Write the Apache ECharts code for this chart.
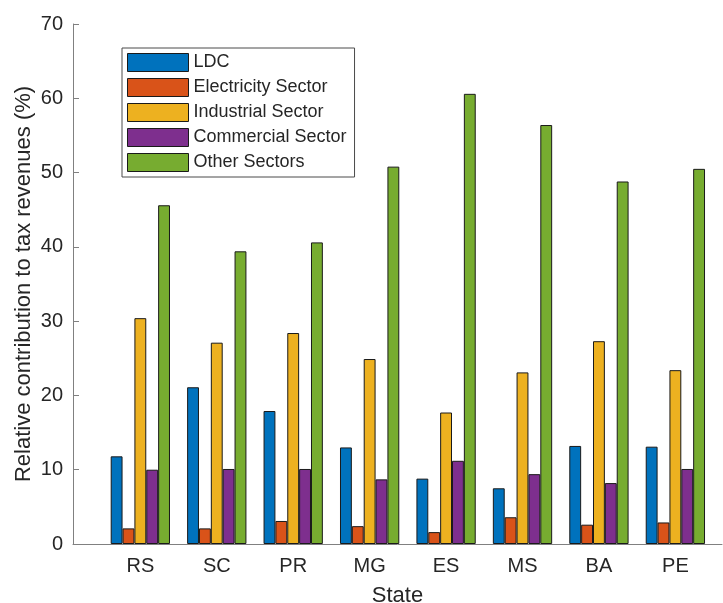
<!DOCTYPE html>
<html>
<head>
<meta charset="utf-8">
<script src="https://cdn.jsdelivr.net/npm/echarts@6/dist/echarts.min.js"></script>
<style>
  html, body { margin: 0; padding: 0; background: #fff; }
  #chart { width: 723px; height: 603px; }
</style>
</head>
<body>
<div id="chart"></div>
<script>
// Relative contribution of each sector to tax revenues, by state (%)
const states = ['RS', 'SC', 'PR', 'MG', 'ES', 'MS', 'BA', 'PE'];
const sectorNames = ['LDC', 'Electricity Sector', 'Industrial Sector', 'Commercial Sector', 'Other Sectors'];
const ldc         = [11.8, 21.1, 17.9, 13.0, 8.8, 7.5, 13.2, 13.1];
const electricity = [2.1, 2.1, 3.1, 2.4, 1.6, 3.6, 2.6, 2.9];
const industrial  = [30.4, 27.1, 28.4, 24.9, 17.7, 23.1, 27.3, 23.4];
const commercial  = [10.0, 10.1, 10.1, 8.7, 11.2, 9.4, 8.2, 10.1];
const other       = [45.6, 39.4, 40.6, 50.8, 60.6, 56.4, 48.8, 50.5];
const yTicks = [0, 10, 20, 30, 40, 50, 60, 70];

const sectorValues = [ldc, electricity, industrial, commercial, other];
const colors = ['#0072BD', '#D95319', '#EDB120', '#7E2F8E', '#77AC30'];
const FONT = 'Liberation Sans, Arial, Helvetica, sans-serif';
const TEXT = '#262626';
const AXIS = '#808080';

// States sit at positions 1..8 on a numeric axis so the group spacing and margins are free
const statePos = states.map((s, i) => i + 1);

const chart = echarts.init(document.getElementById('chart'), null, { renderer: 'canvas' });

chart.setOption({
  backgroundColor: '#fff',
  animation: false,
  textStyle: { fontFamily: FONT },
  grid: { left: 73, right: 1, top: 24, bottom: 59, containLabel: false, outerBoundsMode: 'none' },
  legend: {
    orient: 'vertical',
    left: 122,
    top: 48,
    padding: [5, 8, 5, 5],
    itemWidth: 61,
    itemHeight: 18,
    itemGap: 6,
    borderColor: '#4a4a4a',
    borderWidth: 1,
    backgroundColor: '#fff',
    selectedMode: false,
    icon: 'rect',
    itemStyle: { borderWidth: 1, borderColor: '#1a1a1a' },
    textStyle: { fontFamily: FONT, fontSize: 18, color: TEXT },
    data: sectorNames
  },
  xAxis: {
    type: 'value',
    min: 0.119,
    max: 8.61,
    name: 'State',
    nameLocation: 'middle',
    nameGap: 41,
    nameMoveOverlap: false,
    nameTextStyle: { fontFamily: FONT, fontSize: 22, color: TEXT },
    axisLine: { show: true, onZero: false, lineStyle: { color: AXIS, width: 1 } },
    axisTick: { show: false },
    splitLine: { show: false },
    axisLabel: {
      customValues: statePos,
      formatter: v => states[Math.round(v) - 1] || '',
      fontFamily: FONT, fontSize: 20, color: TEXT, margin: 12
    }
  },
  yAxis: {
    type: 'value',
    min: 0,
    max: 70,
    interval: 10,
    name: 'Relative contribution to tax revenues (%)',
    nameLocation: 'middle',
    nameRotate: 90,
    nameGap: 38,
    nameMoveOverlap: false,
    nameTextStyle: { fontFamily: FONT, fontSize: 22, color: TEXT },
    axisLine: { show: true, lineStyle: { color: AXIS, width: 1 } },
    axisTick: { show: true, inside: true, length: 6, lineStyle: { color: AXIS } },
    splitLine: { show: false },
    axisLabel: {
      customValues: yTicks,
      fontFamily: FONT, fontSize: 20, color: TEXT, margin: 10
    }
  },
  series: sectorNames.map((name, k) => ({
    name,
    type: 'bar',
    barWidth: 11.86,
    barGap: '0%',
    data: statePos.map((p, i) => [p, sectorValues[k][i]]),
    itemStyle: { color: colors[k], borderColor: '#1a1a1a', borderWidth: 1 }
  }))
});
</script>
</body>
</html>
